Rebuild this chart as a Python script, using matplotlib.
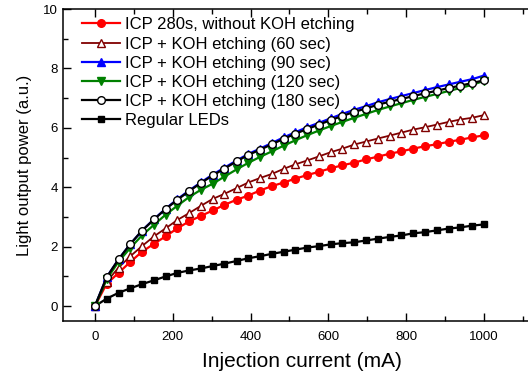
import numpy as np
import matplotlib.pyplot as plt
from matplotlib.ticker import MultipleLocator

plt.rcParams['font.family'] = ['Liberation Sans', 'DejaVu Sans']

# injection current (mA)
current = [0, 30, 61, 91, 121, 152, 182, 212, 242, 273, 303, 333, 364, 394, 424, 455, 485,
           515, 545, 576, 606, 636, 667, 697, 727, 758, 788, 818, 848, 879, 909, 939, 970, 1000]

# light output power (a.u.)
icp_280s = [0, 0.75, 1.12, 1.49, 1.83, 2.10, 2.35, 2.62, 2.85, 3.04, 3.22, 3.41, 3.58, 3.72, 3.89, 4.04, 4.16,
            4.29, 4.41, 4.52, 4.64, 4.74, 4.83, 4.94, 5.03, 5.13, 5.21, 5.30, 5.38, 5.45, 5.53, 5.60, 5.68, 5.75]
koh_60 = [0, 0.82, 1.30, 1.68, 2.02, 2.35, 2.62, 2.90, 3.13, 3.38, 3.61, 3.78, 3.97, 4.16, 4.31, 4.45, 4.62,
          4.77, 4.90, 5.04, 5.18, 5.30, 5.44, 5.54, 5.64, 5.74, 5.84, 5.94, 6.02, 6.11, 6.20, 6.28, 6.34, 6.43]
koh_90 = [0, 0.97, 1.58, 2.09, 2.54, 2.93, 3.28, 3.60, 3.89, 4.17, 4.43, 4.66, 4.90, 5.12, 5.30, 5.49, 5.68,
          5.85, 6.02, 6.17, 6.32, 6.47, 6.61, 6.73, 6.86, 6.97, 7.07, 7.17, 7.27, 7.37, 7.46, 7.55, 7.64, 7.76]
koh_120 = [0, 0.90, 1.50, 1.96, 2.38, 2.74, 3.08, 3.38, 3.67, 3.92, 4.12, 4.36, 4.60, 4.82, 5.02, 5.21, 5.40,
           5.58, 5.75, 5.91, 6.06, 6.20, 6.34, 6.47, 6.60, 6.72, 6.83, 6.94, 7.04, 7.14, 7.24, 7.34, 7.45, 7.58]
koh_180 = [0, 0.97, 1.58, 2.09, 2.54, 2.92, 3.27, 3.58, 3.87, 4.15, 4.40, 4.63, 4.87, 5.09, 5.26, 5.45, 5.63,
           5.80, 5.96, 6.11, 6.26, 6.40, 6.54, 6.65, 6.78, 6.88, 6.97, 7.07, 7.16, 7.25, 7.34, 7.42, 7.51, 7.60]
regular = [0, 0.25, 0.45, 0.60, 0.74, 0.87, 1.00, 1.12, 1.20, 1.27, 1.35, 1.43, 1.52, 1.61, 1.68, 1.76, 1.83,
           1.90, 1.97, 2.02, 2.08, 2.12, 2.15, 2.21, 2.27, 2.33, 2.38, 2.45, 2.49, 2.55, 2.61, 2.65, 2.71, 2.75]

labels = ['ICP 280s, without KOH etching', 'ICP + KOH etching (60 sec)', 'ICP + KOH etching (90 sec)',
          'ICP + KOH etching (120 sec)', 'ICP + KOH etching (180 sec)', 'Regular LEDs']

fig = plt.figure(figsize=(5.28, 3.72), dpi=100)
ax = fig.add_axes([63 / 528, 51 / 372, (540 - 63) / 528, (321 - 9) / 372])

ms = 5.5
ax.plot(current, icp_280s, '-o', color='#ff0000', mfc='#ff0000', mec='#ff0000', ms=ms, lw=1.6, label=labels[0], zorder=3)
ax.plot(current, koh_60, '-^', color='#800000', mfc='white', mec='#800000', ms=ms + 0.5, lw=1.3, label=labels[1], zorder=3)
ax.plot(current, koh_90, '-^', color='#0000ff', mfc='#0000ff', mec='#0000ff', ms=ms, lw=1.6, label=labels[2], zorder=3)
ax.plot(current, koh_120, '-v', color='#008000', mfc='#008000', mec='#008000', ms=ms + 0.5, lw=1.6, label=labels[3], zorder=4)
ax.plot(current, koh_180, '-o', color='black', mfc='white', mec='black', ms=ms, lw=1.6, label=labels[4], zorder=5)
ax.plot(current, regular, '-s', color='black', mfc='black', mec='black', ms=ms - 0.5, lw=1.6, label=labels[5], zorder=3)

ax.set_xlim(-82, 1144)
ax.set_ylim(-0.5, 10)
ax.xaxis.set_major_locator(MultipleLocator(200))
ax.xaxis.set_minor_locator(MultipleLocator(100))
ax.yaxis.set_major_locator(MultipleLocator(2))
ax.yaxis.set_minor_locator(MultipleLocator(1))
ax.tick_params(which='both', direction='in', top=True, right=True, labelsize=9.5, width=1)
ax.tick_params(which='major', length=6)
ax.tick_params(which='minor', length=3.5)
ax.tick_params(axis='x', pad=7)
for s in ax.spines.values():
    s.set_linewidth(1.1)

ax.set_xlabel('Injection current (mA)', fontsize=15, labelpad=7)
ax.set_ylabel('Light output power (a.u.)', fontsize=12, labelpad=8)

ax.legend(loc='upper left', frameon=False, fontsize=12, handlelength=2.3, handletextpad=0.3,
          labelspacing=0.25, borderaxespad=0.15, borderpad=0.35, bbox_to_anchor=(0.022, 1.0))

fig.savefig('out.png', dpi=100)
